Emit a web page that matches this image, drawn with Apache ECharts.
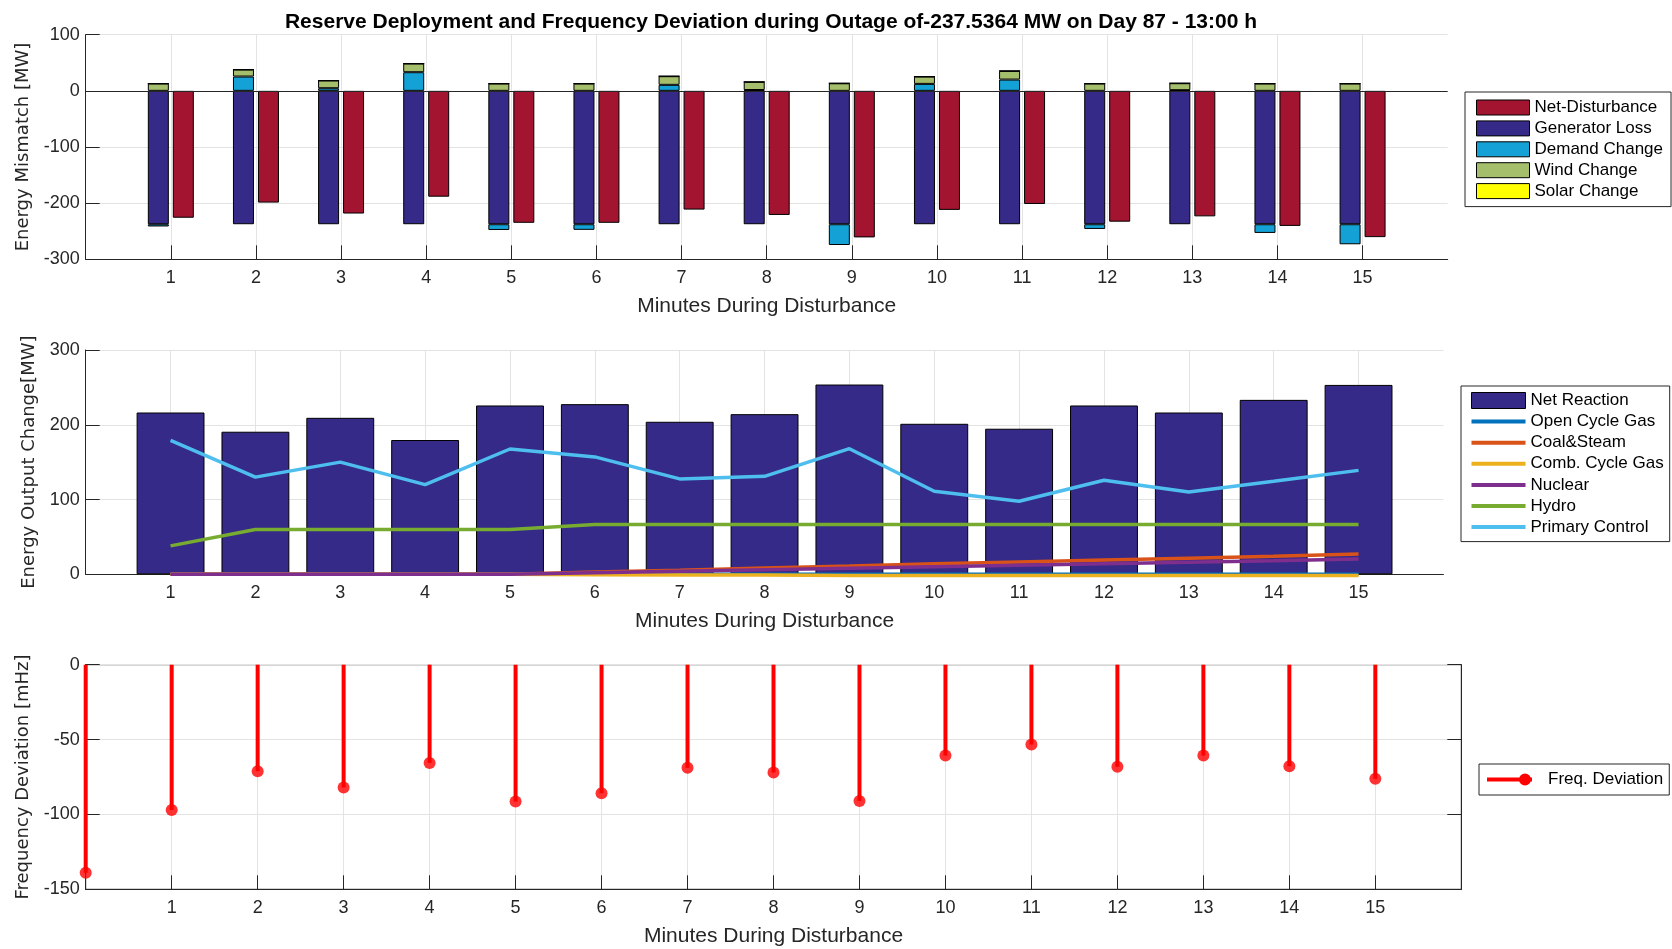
<!DOCTYPE html>
<html>
<head>
<meta charset="utf-8">
<title>Reserve Deployment and Frequency Deviation</title>
<script src="https://cdn.jsdelivr.net/npm/echarts@6/dist/echarts.min.js"></script>
<style>
  html, body { margin: 0; padding: 0; background: #ffffff; }
  #chart { width: 1672px; height: 949px; }
</style>
</head>
<body>
<div id="chart"></div>
<script>
// ---- data -------------------------------------------------------------
const minutes = [1, 2, 3, 4, 5, 6, 7, 8, 9, 10, 11, 12, 13, 14, 15];
const axisSlots = ['0', '1', '2', '3', '4', '5', '6', '7', '8', '9', '10', '11', '12', '13', '14', '15', '16'];

// energy mismatch components [MW]
const generatorLoss = [-237.5364, -237.5364, -237.5364, -237.5364, -237.5364, -237.5364, -237.5364, -237.5364,
                       -237.5364, -237.5364, -237.5364, -237.5364, -237.5364, -237.5364, -237.5364];
const demandChange  = [-4, 25.5, 4.7, 33.2, -10.2, -10, 10.7, 1.5, -37, 12.4, 20.1, -8.4, 1.2, -15.5, -35.7];
const windChange    = [13, 12.4, 13.7, 15.4, 13, 13, 15.4, 14.5, 13.5, 13, 15.4, 13, 12.4, 13, 13];
const solarChange   = [0, 0, 0, 0, 0, 0, 0, 0, 0, 0, 0, 0, 0, 0, 0];
const netDisturbance = [-226, -199, -218.5, -188.5, -235, -235, -211.5, -221, -261, -212, -201.5, -233, -223.5, -240.5, -260.5];

// energy output change [MW]
const netReaction    = [216.4, 190.7, 209.3, 179.6, 225.8, 227.6, 204, 214.2, 253.8, 201.3, 194.7, 225.8, 216.4, 233.3, 253.3];
const openCycleGas   = [0, 0, 0, 0, 0, 0, 0, 0, 0, 0, 0, 0, 0, 0, 0];
const coalSteam      = [0, 0, 0, 0, 0, 3, 5.5, 8.5, 11, 14, 16.5, 19, 21.5, 24, 27];
const combCycleGas   = [0, 0, 0, 0, 0, -0.5, -1, -1, -1.5, -1.5, -1.5, -1.5, -1.5, -1.5, -1.5];
const nuclear        = [0, 0, 0, 0, 0, 2, 4, 6, 8, 10, 12, 14, 16, 18, 20.5];
const hydro          = [38, 60, 60, 60, 60, 66.7, 66.7, 66.7, 66.7, 66.7, 66.7, 66.7, 66.7, 66.7, 66.7];
const primaryControl = [179, 130, 150, 120, 167.6, 157, 127.6, 131, 168, 111, 97.8, 125.8, 110, 124.4, 139];

// frequency deviation [mHz], minute 0 = instant of the outage
const freqMinutes   = [0, 1, 2, 3, 4, 5, 6, 7, 8, 9, 10, 11, 12, 13, 14, 15];
const freqDeviation = [-138.9, -97.1, -71.1, -82, -65.6, -91.3, -85.8, -68.9, -72, -91.1, -60.7, -53.3, -68.2, -60.7, -67.8, -76.2];

const titleText = 'Reserve Deployment and Frequency Deviation during Outage of-237.5364 MW on Day 87 - 13:00 h';

// ---- styling helpers -------------------------------------------------
const AXIS_COLOR = '#262626';
const GRID_COLOR = '#e3e3e3';
const SANS = 'Liberation Sans, Arial, sans-serif';
const WIDE = 'DejaVu Sans, Verdana, sans-serif';

const sourceColors = {
  'Open Cycle Gas': '#0072BD',
  'Coal&Steam': '#D95319',
  'Comb. Cycle Gas': '#EDB120',
  'Nuclear': '#7E2F8E',
  'Hydro': '#77AC30',
  'Primary Control': '#4DBEEE'
};

const pair = (xs, ys) => xs.map((x, i) => [String(x), ys[i]]);
const showMinute = (index) => index >= 1 && index <= 15;

function minuteAxis(gridIndex, nameGap) {
  return {
    type: 'category',
    gridIndex,
    data: axisSlots,
    boundaryGap: false,
    name: 'Minutes During Disturbance',
    nameLocation: 'middle',
    nameGap,
    nameTextStyle: { fontFamily: SANS, fontSize: 21, color: AXIS_COLOR },
    axisLine: { show: true, onZero: false, lineStyle: { color: AXIS_COLOR, width: 1 } },
    axisTick: { show: true, inside: true, length: 14, interval: showMinute, lineStyle: { color: AXIS_COLOR } },
    axisLabel: { show: true, interval: showMinute, color: AXIS_COLOR, fontFamily: SANS, fontSize: 18, margin: 10 },
    splitLine: { show: true, interval: showMinute, lineStyle: { color: GRID_COLOR, width: 1 } }
  };
}

function valueAxis(gridIndex, min, max, interval, name, nameGap) {
  return {
    type: 'value',
    gridIndex,
    min, max, interval,
    name,
    nameLocation: 'middle',
    nameGap,
    nameTextStyle: { fontFamily: WIDE, fontSize: 18, color: AXIS_COLOR },
    axisLine: { show: true, onZero: false, lineStyle: { color: AXIS_COLOR, width: 1 } },
    axisTick: { show: true, inside: true, length: 14, lineStyle: { color: AXIS_COLOR } },
    axisLabel: { color: AXIS_COLOR, fontFamily: SANS, fontSize: 18, margin: 6 },
    splitLine: { show: true, lineStyle: { color: GRID_COLOR, width: 1 } }
  };
}

const barEdge = { borderColor: '#000000', borderWidth: 1 };
const legendText = { fontFamily: SANS, fontSize: 17, color: '#000000', lineHeight: 16 };

// thick horizontal stroke used as the legend key of a line
const LINE_KEY = 'path://M0,0L0.01,0M0,16L0.01,16M0,6L54,6L54,10L0,10Z';
// stem with a round head, legend key of the frequency deviation
const STEM_KEY = 'path://M0,0L0.01,0M0,12L0.01,12M56,6L56,6.01M0,4L45,4L45,8L0,8ZM32,6A6,6 0 1,1 44,6A6,6 0 1,1 32,6Z';

function mismatchBar(name, values, color) {
  return {
    type: 'bar', name, xAxisIndex: 0, yAxisIndex: 0,
    stack: 'mismatch', barWidth: 21, barGap: '19%',
    itemStyle: Object.assign({ color }, barEdge),
    data: pair(minutes, values)
  };
}

function sourceLine(name, values) {
  const color = sourceColors[name];
  return {
    type: 'line', name, xAxisIndex: 1, yAxisIndex: 1,
    symbol: 'none', showSymbol: false, clip: false, z: 3,
    lineStyle: { color, width: 3.5 },
    itemStyle: { color },
    data: pair(minutes, values)
  };
}

// ---- chart --------------------------------------------------------------
const chart = echarts.init(document.getElementById('chart'), null, { renderer: 'canvas' });

const option = {
  animation: false,
  backgroundColor: '#ffffff',
  title: {
    text: titleText,
    left: 766,
    top: 7,
    textAlign: 'center',
    textStyle: { fontFamily: SANS, fontSize: 21, fontWeight: 'bold', color: '#000000' }
  },
  grid: [
    { left: 85.7, top: 34.7, width: 1362, height: 224.6, outerBoundsMode: 'none' },
    { left: 85.7, top: 350, width: 1357.7, height: 224.3, outerBoundsMode: 'none' },
    { left: 85.7, top: 664.7, width: 1375.6, height: 224.6, outerBoundsMode: 'none',
      show: true, borderColor: AXIS_COLOR, borderWidth: 1, backgroundColor: 'transparent' }
  ],
  xAxis: [minuteAxis(0, 36), minuteAxis(1, 36), minuteAxis(2, 36)],
  yAxis: [
    valueAxis(0, -300, 100, 100, 'Energy Mismatch [MW]', 51),
    valueAxis(1, 0, 300, 100, 'Energy Output Change[MW]', 46),
    valueAxis(2, -150, 0, 50, 'Frequency Deviation [mHz]', 51),
    {
      type: 'value', gridIndex: 2, position: 'right', min: -150, max: 0, interval: 50,
      axisLine: { show: true, lineStyle: { color: AXIS_COLOR, width: 1 } },
      axisTick: { show: true, inside: true, length: 14, lineStyle: { color: AXIS_COLOR } },
      axisLabel: { show: false },
      splitLine: { show: false }
    }
  ],
  legend: [
    {
      orient: 'vertical', left: 1465, top: 92,
      padding: [7, 8, 7, 11], itemWidth: 53, itemHeight: 15, itemGap: 3.9,
      borderColor: AXIS_COLOR, borderWidth: 1, backgroundColor: '#ffffff',
      textStyle: legendText, selectedMode: false,
      data: ['Net-Disturbance', 'Generator Loss', 'Demand Change', 'Wind Change', 'Solar Change'].map(name => ({
        name, icon: 'rect', itemStyle: { borderColor: '#000000', borderWidth: 1 }
      }))
    },
    {
      orient: 'vertical', left: 1461, top: 386,
      padding: [6, 6, 6, 10], itemWidth: 54, itemHeight: 16, itemGap: 4.1,
      borderColor: AXIS_COLOR, borderWidth: 1, backgroundColor: '#ffffff',
      textStyle: legendText, selectedMode: false,
      data: [{ name: 'Net Reaction', icon: 'rect', itemStyle: { borderColor: '#000000', borderWidth: 1 } }]
        .concat(Object.keys(sourceColors).map(name => ({
          name, icon: LINE_KEY, itemStyle: { color: sourceColors[name], borderWidth: 0 }
        })))
    },
    {
      orient: 'vertical', left: 1479, top: 764,
      padding: [7, 6, 7, 8], itemWidth: 56, itemHeight: 12,
      borderColor: AXIS_COLOR, borderWidth: 1, backgroundColor: '#ffffff',
      textStyle: legendText, selectedMode: false,
      data: [{ name: 'Freq. Deviation', icon: STEM_KEY, itemStyle: { color: '#ff0000', borderWidth: 0 } }]
    }
  ],
  series: [
    // stacked mismatch components, left bar of each minute
    mismatchBar('Generator Loss', generatorLoss, '#352A87'),
    mismatchBar('Demand Change', demandChange, '#14A2D6'),
    mismatchBar('Wind Change', windChange, '#A4BE6C'),
    mismatchBar('Solar Change', solarChange, '#FFFF00'),
    // resulting net disturbance, right bar of each minute
    {
      type: 'bar', name: 'Net-Disturbance', xAxisIndex: 0, yAxisIndex: 0,
      barWidth: 21, barGap: '19%',
      itemStyle: Object.assign({ color: '#A2142F' }, barEdge),
      data: pair(minutes, netDisturbance),
      markLine: {
        silent: true, symbol: 'none', label: { show: false },
        lineStyle: { color: AXIS_COLOR, width: 1, type: 'solid' },
        data: [{ yAxis: 0 }]
      }
    },

    // reaction of the generation fleet
    {
      type: 'bar', name: 'Net Reaction', xAxisIndex: 1, yAxisIndex: 1,
      barWidth: '80%',
      itemStyle: Object.assign({ color: '#352A87' }, barEdge),
      data: pair(minutes, netReaction)
    },
    sourceLine('Open Cycle Gas', openCycleGas),
    sourceLine('Coal&Steam', coalSteam),
    sourceLine('Comb. Cycle Gas', combCycleGas),
    sourceLine('Nuclear', nuclear),
    sourceLine('Hydro', hydro),
    sourceLine('Primary Control', primaryControl),

    // frequency deviation drawn as stems with filled heads
    {
      type: 'bar', name: 'Freq. Deviation', xAxisIndex: 2, yAxisIndex: 2,
      barWidth: 4, clip: false, z: 3,
      itemStyle: { color: '#ff0000' },
      data: pair(freqMinutes, freqDeviation)
    },
    {
      type: 'scatter', name: 'Freq. Deviation', xAxisIndex: 2, yAxisIndex: 2,
      symbol: 'circle', symbolSize: 12, clip: false, z: 4,
      itemStyle: { color: '#ff0000' },
      data: pair(freqMinutes, freqDeviation)
    }
  ]
};

chart.setOption(option);
</script>
</body>
</html>
